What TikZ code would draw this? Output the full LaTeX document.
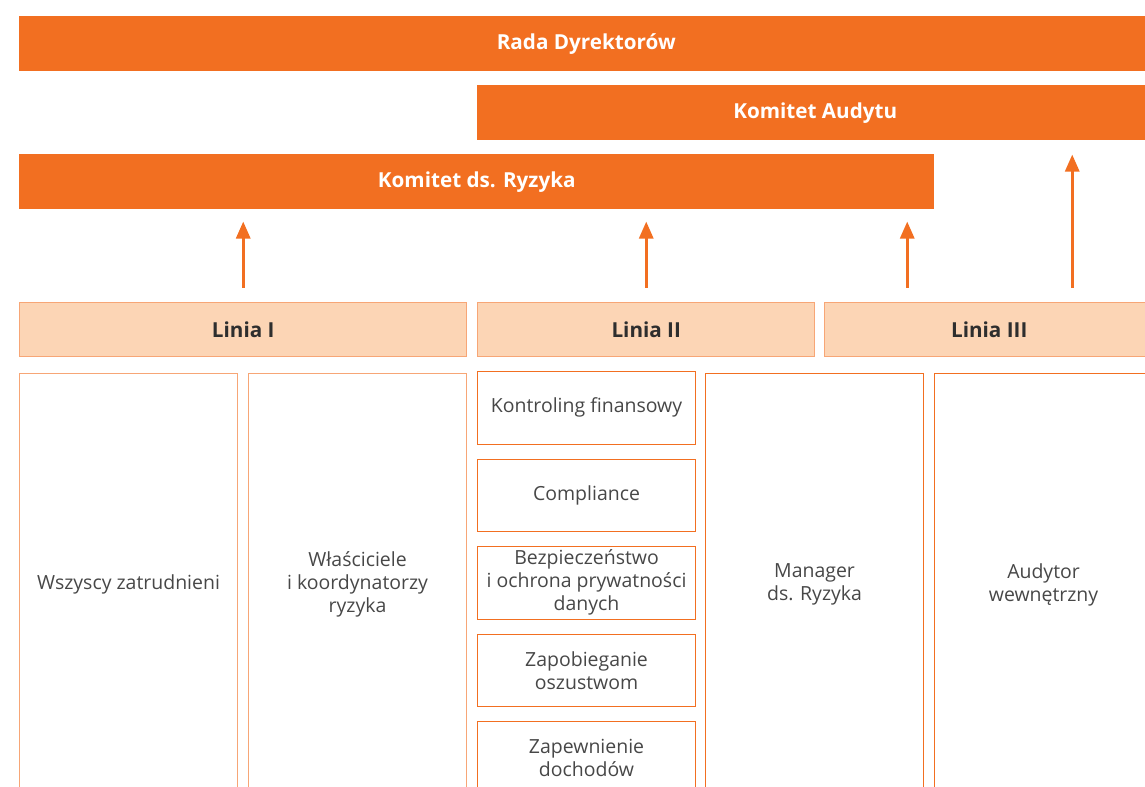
\documentclass[tikz,border=0pt]{standalone}
\usepackage{fontspec}
\setmainfont{Open Sans}
\usetikzlibrary{arrows.meta}
\definecolor{pomar}{HTML}{F26F21}
\definecolor{brzoskw}{HTML}{FCD5B5}
\definecolor{jasnyobr}{HTML}{F7A676}
\definecolor{tekst}{HTML}{2E2E2E}
\definecolor{szary}{HTML}{474747}

\begin{document}
\begin{tikzpicture}[x=0.75pt,y=-0.75pt,
  bar/.style={fill=pomar,text=white,anchor=north west,inner sep=0,
    minimum height=41.25pt,font=\bfseries\fontsize{15.5}{18}\selectfont},
  linia/.style={fill=brzoskw,draw=jasnyobr,line width=1.1pt,anchor=north west,
    inner sep=0,minimum height=40.5pt,text=tekst,font=\bfseries\fontsize{15.5}{18}\selectfont},
  kol/.style={draw=#1,line width=0.8pt,anchor=north west,inner sep=0,
    minimum width=163.5pt,minimum height=316.5pt,align=center,text=szary,
    font=\fontsize{14.6}{17.2}\selectfont},
  sbox/.style={draw=pomar,line width=0.8pt,anchor=north west,inner sep=0,
    minimum width=163.5pt,minimum height=54.4pt,align=center,text=szary,
    font=\fontsize{14.6}{17.2}\selectfont},
  strz/.style={draw=pomar,line width=2.25pt,-{Triangle[width=10.5pt,length=12.75pt]}}]
\clip (0,0) rectangle (1145,787);

% gora
\node[bar,minimum width=850.5pt] (rada) at (19,16) {Rada Dyrektorów};
\node[bar,minimum width=507pt] (audyt) at (477,85) {Komitet Audytu};
\node[bar,minimum width=686.25pt] (ryzyko) at (19,154) {Komitet ds. Ryzyka};

% linie
\node[linia,minimum width=335.25pt] (lin1) at (19,302) {Linia I};
\node[linia,minimum width=252.75pt] (lin2) at (477,302) {Linia II};
\node[linia,minimum width=246.75pt] (lin3) at (824,302) {Linia III};

\coordinate (s3) at ([shift={(-61.5pt,10.5pt)}]lin3.north);
\coordinate (s4) at ([shift={(62.25pt,10.5pt)}]lin3.north);
\draw[strz] ([yshift=10.5pt]lin1.north) -- ([yshift=-9pt]ryzyko.south -| lin1.north);
\draw[strz] ([yshift=10.5pt]lin2.north) -- ([yshift=-9pt]ryzyko.south -| lin2.north);
\draw[strz] (s3) -- ([yshift=-9pt]ryzyko.south -| s3);
\draw[strz] (s4) -- ([yshift=-10.5pt]audyt.south -| s4);

% kolumny
\node[kol=jasnyobr] (wszyscy) at (19,373) {Wszyscy zatrudnieni};
\node[kol=jasnyobr] (wlasc) at (248,373) {Właściciele\\i koordynatorzy\\ryzyka};
\foreach \t [count=\i] in {Kontroling finansowy,Compliance,
    {Bezpieczeństwo\\i ochrona prywatności\\danych},{Zapobieganie\\oszustwom},
    {Zapewnienie\\dochodów}}
  \node[sbox] (l2b\i) at (477,{371+87.5*(\i-1)}) {\t};
\node[kol=pomar] (manager) at (705,373) {Manager\\ds. Ryzyka};
\node[kol=pomar] (audytor) at (934,373) {Audytor\\wewnętrzny};
\end{tikzpicture}
\end{document}
